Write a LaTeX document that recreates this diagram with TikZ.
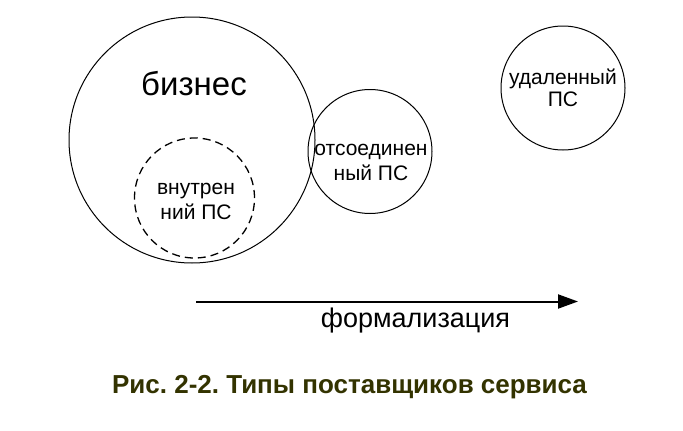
\documentclass[tikz,border=0pt]{standalone}
\usepackage{fontspec}
\setmainfont{Liberation Sans}
\usetikzlibrary{arrows.meta}
\definecolor{captioncol}{RGB}{51,51,0}
\frenchspacing
\tikzset{
  ring/.style={draw=black, circle, inner sep=0pt, line width=1pt},
  dashring/.style={ring, line width=1.3pt, dash pattern=on 8pt off 5pt},
  lbl/.style={align=center, anchor=base, inner sep=0pt, font=\fontsize{21}{25}\selectfont},
}
\begin{document}
\begin{tikzpicture}[x=1pt, y=-1pt]
\useasboundingbox[fill=white] (0,0) rectangle (683,431);
\node[ring, minimum size=246pt] (biz) at (192,140) {};
\node[dashring, minimum size=120pt] (intern) at (194.5,198) {};
\node[ring, minimum size=124pt] (disc) at (370,151.5) {};
\node[ring, minimum size=124pt] (remote) at (563,88) {};
\node[anchor=base, inner sep=0pt, font=\fontsize{33}{36}\selectfont] (bizt) at (194,95) {бизнес};
\node[lbl] (internt) at (196,219) {внутрен\\ний ПС};
\node[lbl] (disct) at (371,180) {отсоединен\\ный ПС};
\node[lbl, font=\fontsize{21}{22}\selectfont] (remotet) at (563,106) {удаленный\\ПС};
\coordinate (a0) at (196,301.5);
\coordinate (a1) at (578,301.5);
\draw[line width=2pt, -{Triangle[length=20pt, width=14pt]}] (a0) -- (a1);
\node[anchor=base, inner sep=0pt, font=\fontsize{27}{30}\selectfont] (form) at (415.5,327) {формализация};
\node[anchor=base, inner sep=0pt, text=captioncol, font=\fontsize{26}{30}\selectfont\bfseries] (cap) at (349.5,393) {Рис. 2-2. Типы поставщиков сервиса};
\end{tikzpicture}
\end{document}
